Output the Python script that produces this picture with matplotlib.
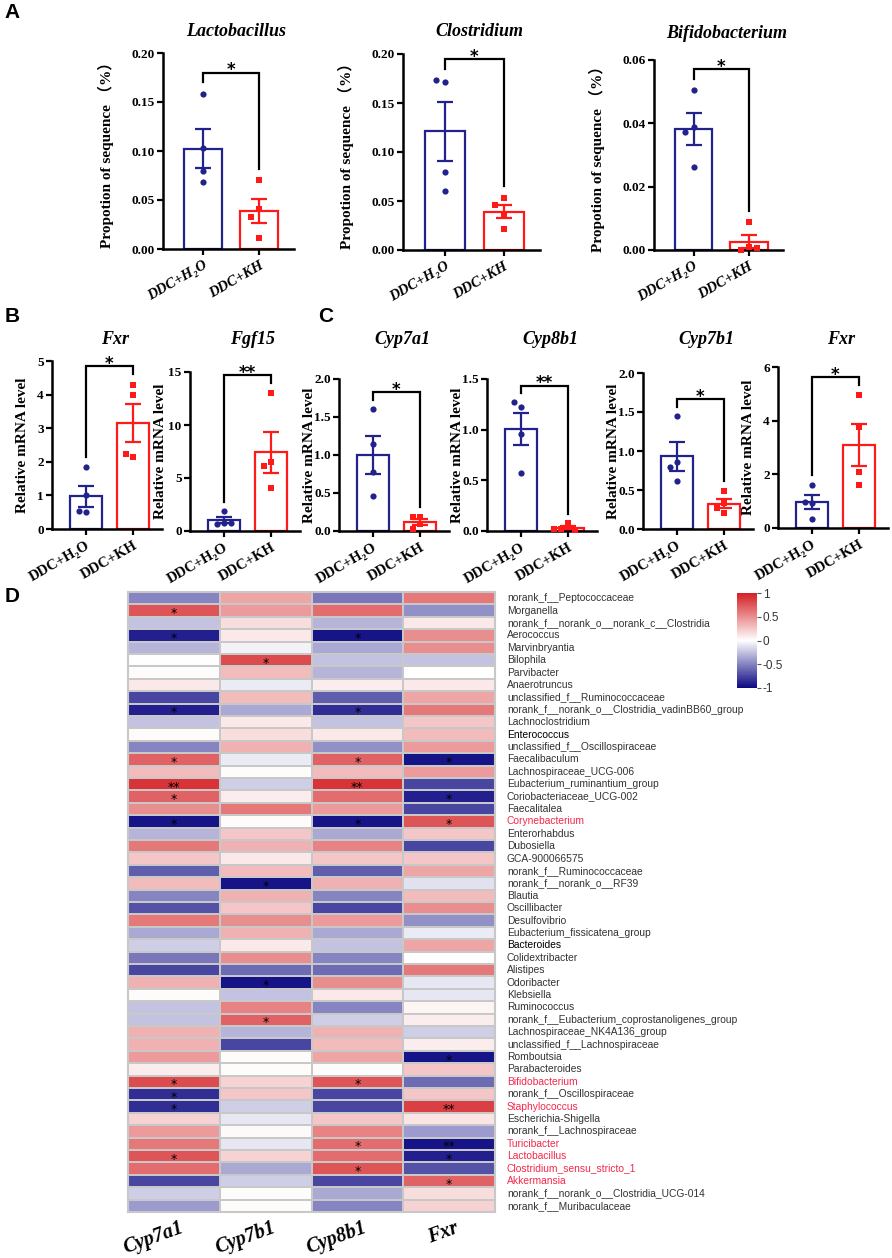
import numpy as np
import matplotlib
matplotlib.use('Agg')
import matplotlib.pyplot as plt
from matplotlib.colors import LinearSegmentedColormap
from matplotlib.ticker import FormatStrFormatter

W, H = 892, 1258
BLUE = '#22228c'
RED = '#ff1a1a'

groups = ['DDC+H\u2082O', 'DDC+KH']

# panel A: proportion of sequence (%)
lacto_h2o = [0.158, 0.103, 0.080, 0.068]
lacto_kh = [0.070, 0.041, 0.033, 0.011]
clos_h2o = [0.171, 0.173, 0.080, 0.060]
clos_kh = [0.053, 0.046, 0.037, 0.021]
bifi_h2o = [0.0505, 0.0388, 0.0372, 0.0263]
bifi_kh = [0.0088, 0.0010, 0.0000, 0.0006]

# panel B / C: relative mRNA level
fxr_ileum_h2o = [1.84, 1.02, 0.50, 0.55]
fxr_ileum_kh = [4.30, 3.99, 2.13, 2.22]
fgf15_h2o = [1.86, 0.75, 0.69, 0.75]
fgf15_kh = [13.05, 6.48, 6.13, 4.09]
cyp7a1_h2o = [1.61, 1.15, 0.77, 0.46]
cyp7a1_kh = [0.19, 0.18, 0.09, 0.02]
cyp8b1_h2o = [1.22, 1.27, 0.96, 0.57]
cyp8b1_kh = [0.08, 0.02, 0.01, 0.02]
cyp7b1_h2o = [1.45, 0.86, 0.80, 0.61]
cyp7b1_kh = [0.49, 0.33, 0.27, 0.21]
fxr_liver_h2o = [1.62, 0.92, 0.98, 0.35]
fxr_liver_kh = [4.97, 3.76, 2.07, 1.60]

# panel D: correlation heatmap
genes = ['Cyp7a1', 'Cyp7b1', 'Cyp8b1', 'Fxr']
taxa = [
    'norank_f__Peptococcaceae', 'Morganella', 'norank_f__norank_o__norank_c__Clostridia',
    'Aerococcus', 'Marvinbryantia', 'Bilophila', 'Parvibacter', 'Anaerotruncus',
    'unclassified_f__Ruminococcaceae', 'norank_f__norank_o__Clostridia_vadinBB60_group',
    'Lachnoclostridium', 'Enterococcus', 'unclassified_f__Oscillospiraceae', 'Faecalibaculum',
    'Lachnospiraceae_UCG-006', 'Eubacterium_ruminantium_group', 'Coriobacteriaceae_UCG-002',
    'Faecalitalea', 'Corynebacterium', 'Enterorhabdus', 'Dubosiella', 'GCA-900066575',
    'norank_f__Ruminococcaceae', 'norank_f__norank_o__RF39', 'Blautia', 'Oscillibacter',
    'Desulfovibrio', 'Eubacterium_fissicatena_group', 'Bacteroides', 'Colidextribacter',
    'Alistipes', 'Odoribacter', 'Klebsiella', 'Ruminococcus',
    'norank_f__Eubacterium_coprostanoligenes_group', 'Lachnospiraceae_NK4A136_group',
    'unclassified_f__Lachnospiraceae', 'Romboutsia', 'Parabacteroides', 'Bifidobacterium',
    'norank_f__Oscillospiraceae', 'Staphylococcus', 'Escherichia-Shigella',
    'norank_f__Lachnospiraceae', 'Turicibacter', 'Lactobacillus',
    'Clostridium_sensu_stricto_1', 'Akkermansia', 'norank_f__norank_o__Clostridia_UCG-014',
    'norank_f__Muribaculaceae',
]
red_taxa = ['Corynebacterium', 'Bifidobacterium', 'Staphylococcus', 'Turicibacter',
            'Lactobacillus', 'Clostridium_sensu_stricto_1', 'Akkermansia']
dark_taxa = ['Enterococcus', 'Bacteroides']

corr = [
    [-0.50, 0.40, -0.55, 0.60],
    [0.75, 0.45, 0.65, -0.45],
    [-0.25, 0.15, -0.30, 0.10],
    [-0.90, 0.10, -0.95, 0.50],
    [-0.30, -0.05, -0.35, 0.50],
    [0.00, 0.80, -0.25, -0.25],
    [0.02, 0.30, -0.30, 0.00],
    [0.10, -0.08, 0.08, 0.10],
    [-0.75, 0.30, -0.65, 0.40],
    [-0.90, -0.35, -0.85, 0.60],
    [-0.25, 0.10, -0.25, 0.25],
    [0.02, 0.15, 0.10, 0.30],
    [-0.50, 0.35, -0.45, 0.45],
    [0.70, -0.08, 0.70, -0.95],
    [0.30, 0.02, 0.30, 0.45],
    [0.90, -0.20, 0.90, -0.75],
    [0.70, 0.08, 0.65, -0.90],
    [0.50, 0.60, 0.45, -0.75],
    [-0.95, 0.02, -0.95, 0.75],
    [-0.30, 0.25, -0.35, 0.25],
    [0.60, 0.35, 0.55, -0.75],
    [0.25, 0.10, 0.25, 0.25],
    [-0.65, 0.30, -0.65, 0.40],
    [0.30, -0.95, 0.35, -0.12],
    [-0.50, 0.35, -0.50, 0.30],
    [-0.70, 0.25, -0.75, 0.50],
    [0.60, 0.50, 0.45, -0.45],
    [-0.35, 0.35, -0.35, -0.08],
    [-0.20, 0.10, -0.25, 0.40],
    [-0.55, 0.50, -0.50, 0.00],
    [-0.75, -0.60, -0.60, 0.60],
    [0.35, -0.95, 0.50, -0.10],
    [0.02, -0.25, 0.10, -0.10],
    [-0.25, 0.55, -0.50, 0.05],
    [-0.25, 0.70, -0.20, 0.08],
    [0.35, -0.30, 0.35, -0.20],
    [0.35, -0.75, 0.30, 0.08],
    [0.45, 0.02, 0.40, -0.95],
    [0.08, 0.02, 0.02, 0.25],
    [0.80, 0.20, 0.75, -0.60],
    [-0.85, 0.25, -0.75, 0.25],
    [-0.85, -0.20, -0.75, 0.85],
    [0.20, -0.10, 0.25, 0.12],
    [0.45, 0.03, 0.55, -0.40],
    [0.60, -0.10, 0.65, -0.95],
    [0.75, 0.20, 0.65, -0.90],
    [0.65, -0.35, 0.75, -0.70],
    [-0.75, -0.20, -0.75, 0.70],
    [-0.20, 0.02, -0.35, 0.15],
    [-0.40, 0.02, -0.50, 0.20],
]

# significance marks, keyed by (row, column)
sig = {
    (1, 0): '*', (3, 0): '*', (3, 2): '*', (5, 1): '*', (9, 0): '*', (9, 2): '*',
    (13, 0): '*', (13, 2): '*', (13, 3): '*', (15, 0): '**', (15, 2): '**',
    (16, 0): '*', (16, 3): '*', (18, 0): '*', (18, 2): '*', (18, 3): '*',
    (23, 1): '*', (31, 1): '*', (34, 1): '*', (37, 3): '*', (39, 0): '*', (39, 2): '*',
    (40, 0): '*', (41, 0): '*', (41, 3): '**', (44, 2): '*', (44, 3): '**',
    (45, 0): '*', (45, 3): '*', (46, 2): '*', (47, 3): '*',
}

plt.rcParams['font.family'] = ['Liberation Serif', 'DejaVu Serif']
plt.rcParams['font.weight'] = 'bold'
plt.rcParams['axes.labelweight'] = 'bold'

fig = plt.figure(figsize=(W / 100, H / 100), dpi=100)


def px(x0, y0, x1, y1):
    return [x0 / W, 1 - y1 / H, (x1 - x0) / W, (y1 - y0) / H]


def swarm(vals, span, step=0.15):
    offs = []
    for k, v in enumerate(vals):
        used = [offs[j] for j in range(k) if abs(vals[j] - v) < span]
        o = 0.0
        n = 1
        while any(abs(o - u) < step * 0.9 for u in used):
            o = (-1) ** n * step * ((n + 1) // 2) * 0.5
            n += 1
        offs.append(o)
    return np.array(offs)


def bar_panel(box, ctrl, treat, ymax, yticks, fmt, stars, italic, lab_off, ylabel):
    ax = fig.add_axes(px(*box))
    ax.set_xlim(-0.72, 1.62)
    ax.set_ylim(0, ymax)
    tops = []
    for i, (vals, col, mk) in enumerate([(ctrl, BLUE, 'o'), (treat, RED, 's')]):
        vals = np.asarray(vals, dtype=float)
        m = vals.mean()
        se = vals.std(ddof=1) / np.sqrt(len(vals))
        ax.bar(i, m, width=0.68, facecolor='white', edgecolor=col, linewidth=1.6, zorder=1)
        ax.errorbar(i, m, yerr=se, color=col, capsize=5.5, capthick=1.6,
                    elinewidth=1.6, zorder=2)
        offs = swarm(list(vals), 0.05 * ymax)
        ax.scatter(i + offs, vals, s=20, marker=mk, color=col, zorder=3,
                   clip_on=False, linewidths=0)
        tops.append(max(vals.max(), m + se) + 0.06 * ymax)
    top = max(tops) + 0.05 * ymax
    ax.plot([0, 0, 1, 1], [tops[0], top, top, tops[1]], color='black', lw=1.6,
            clip_on=False, solid_joinstyle='miter')
    ax.annotate(stars, (0.5, top), xytext=(0, -2), textcoords='offset points',
                ha='center', va='baseline', fontsize=12, fontweight='bold',
                family=['DejaVu Sans'], annotation_clip=False)
    for s in ['top', 'right']:
        ax.spines[s].set_visible(False)
    for s in ['left', 'bottom']:
        ax.spines[s].set_linewidth(1.8)
    ax.set_yticks(yticks)
    ax.yaxis.set_major_formatter(FormatStrFormatter(fmt))
    ax.set_xticks([0, 1])
    ax.set_xticklabels(groups, rotation=30, ha='right', rotation_mode='anchor',
                       fontsize=10.5, style='italic' if italic else 'normal')
    ax.tick_params(direction='out', length=4, width=1.6, labelsize=9.5, pad=2)
    ax.tick_params(axis='x', pad=3, labelsize=10.5)
    ax.set_ylabel(ylabel, fontsize=11, fontweight='bold',
                  family=['Liberation Serif', 'Noto Sans CJK SC'])
    ax.yaxis.set_label_coords(-lab_off / (box[2] - box[0]), 0.5)
    cx = (box[0] + box[2]) / 2 + 8
    return ax, cx


ylab_a = 'Propotion of sequence \uff08%\uff09'
ylab_b = 'Relative mRNA level'

a_panels = [
    ((163, 53, 294, 249), lacto_h2o, lacto_kh, 0.20, [0, 0.05, 0.10, 0.15, 0.20], '%.2f', 'Lactobacillus', '*', 31),
    ((403, 54, 540, 250), clos_h2o, clos_kh, 0.20, [0, 0.05, 0.10, 0.15, 0.20], '%.2f', 'Clostridium', '*', 31),
    ((654, 60, 783, 250), bifi_h2o, bifi_kh, 0.06, [0, 0.02, 0.04, 0.06], '%.2f', 'Bifidobacterium', '*', 34),
]
for box, c, t, ym, yt, fmt, title, st, ty in a_panels:
    ax, cx = bar_panel(box, c, t, ym, yt, fmt, st, True, 49, ylab_a)
    fig.text(cx / W, 1 - ty / H, title, ha='center', va='center', fontsize=13,
             style='italic', fontweight='bold')

bc_panels = [
    ((52, 361, 162, 529), fxr_ileum_h2o, fxr_ileum_kh, 5, [0, 1, 2, 3, 4, 5], '%d', 'Fxr', '*'),
    ((190, 372, 300, 531), fgf15_h2o, fgf15_kh, 15, [0, 5, 10, 15], '%d', 'Fgf15', '**'),
    ((339, 379, 449, 531), cyp7a1_h2o, cyp7a1_kh, 2.0, [0, 0.5, 1.0, 1.5, 2.0], '%.1f', 'Cyp7a1', '*'),
    ((487, 379, 597, 531), cyp8b1_h2o, cyp8b1_kh, 1.5, [0, 0.5, 1.0, 1.5], '%.1f', 'Cyp8b1', '**'),
    ((643, 373, 753, 529), cyp7b1_h2o, cyp7b1_kh, 2.0, [0, 0.5, 1.0, 1.5, 2.0], '%.1f', 'Cyp7b1', '*'),
    ((778, 367, 888, 528), fxr_liver_h2o, fxr_liver_kh, 6, [0, 2, 4, 6], '%d', 'Fxr', '*'),
]
for box, c, t, ym, yt, fmt, title, st in bc_panels:
    ax, cx = bar_panel(box, c, t, ym, yt, fmt, st, False, 23, ylab_b)
    fig.text(cx / W, 1 - 340 / H, title, ha='center', va='center', fontsize=13,
             style='italic', fontweight='bold')

# panel letters
for letter, x, y in [('A', 4, 12), ('B', 5, 316), ('C', 318, 316), ('D', 5, 597)]:
    fig.text(x / W, 1 - y / H, letter, ha='left', va='center', fontsize=15,
             fontweight='bold', family=['Liberation Sans'])

# heatmap
cmap = LinearSegmentedColormap.from_list('corr', ['#0c0882', '#ffffff', '#d41f22'])
hx = fig.add_axes(px(128, 592, 495, 1212))
mesh = hx.pcolormesh(np.array(corr), cmap=cmap, vmin=-1, vmax=1,
                     edgecolors='#c8c8c8', linewidth=1.2)
hx.set_xlim(0, len(genes))
hx.set_ylim(len(taxa), 0)
hx.set_xticks([])
hx.set_yticks([])
for s in hx.spines.values():
    s.set_color('#c8c8c8')
    s.set_linewidth(1.5)
for (r, c), mark in sig.items():
    hx.text(c + 0.5, r + 0.75, mark, ha='center', va='center', fontsize=9,
            family=['DejaVu Sans'], fontweight='normal', color='black')
for i, name in enumerate(taxa):
    col = '#f5284b' if name in red_taxa else ('black' if name in dark_taxa else '#333333')
    hx.text(len(genes) + 0.13, i + 0.5, name, ha='left', va='center', fontsize=7.4,
            family=['Liberation Sans'], fontweight='normal', color=col, clip_on=False)
for j, g in enumerate(genes):
    hx.text(j + 0.56, len(taxa) + 0.5, g, ha='right', va='top', rotation=20,
            rotation_mode='anchor', fontsize=14.5, style='italic', fontweight='bold',
            clip_on=False)

cax = fig.add_axes(px(737, 593, 757, 688))
cb = fig.colorbar(mesh, cax=cax, ticks=[-1, -0.5, 0, 0.5, 1])
cb.outline.set_visible(False)
cax.set_yticklabels(['-1', '-0.5', '0', '0.5', '1'])
cax.tick_params(length=3, width=0.8, labelsize=8.5, color='#555555', pad=1)
for lab in cax.get_yticklabels():
    lab.set_family(['Liberation Sans'])
    lab.set_fontweight('normal')
    lab.set_color('#333333')

fig.savefig('out.png', dpi=100)
